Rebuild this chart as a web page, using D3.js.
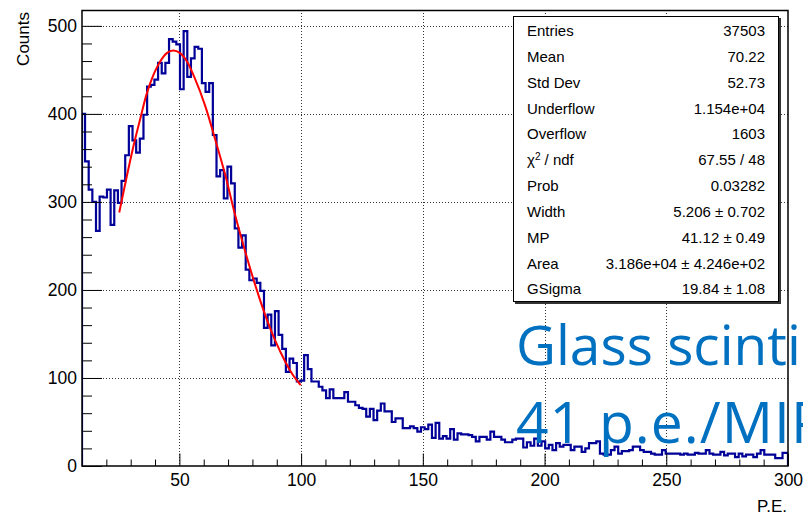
<!DOCTYPE html>
<html>
<head>
<meta charset="utf-8">
<script src="https://cdn.jsdelivr.net/npm/d3@7"></script>
<style>
  body { margin: 0; background: #fff; }
  svg { display: block; font-family: 'Liberation Sans', Arial, sans-serif; }
</style>
</head>
<body>
<div id="chart"></div>
<script>
// histogram: bins of 1.5 P.E. starting at 9.75
const binStart = 9.75
const binWidth = 1.5
const counts = [
  400, 346, 314, 300, 267, 306, 305, 314, 274, 313,
  299, 324, 353, 386, 370, 356, 372, 399, 431, 433,
  439, 458, 446, 458, 485, 482, 479, 428, 494, 442,
  463, 476, 474, 435, 425, 435, 376, 329, 336, 304,
  340, 321, 270, 248, 262, 223, 211, 213, 208, 199,
  157, 172, 137, 176, 149, 133, 107, 122, 117, 96,
  97, 126, 110, 96, 96, 90, 86, 77, 87, 77,
  77, 77, 84, 73, 73, 69, 66, 65, 56, 65,
  52, 63, 71, 62, 62, 50, 54, 54, 43, 43,
  45, 43, 39, 44, 42, 47, 32, 49, 31, 34,
  31, 42, 30, 37, 36, 36, 35, 33, 28, 33,
  33, 30, 39, 33, 33, 30, 27, 27, 30, 31,
  31, 21, 27, 23, 31, 23, 28, 20, 24, 18,
  26, 22, 24, 24, 18, 22, 22, 16, 20, 26,
  26, 28, 14, 13, 13, 18, 22, 14, 17, 17,
  18, 22, 22, 18, 16, 16, 14, 13, 13, 18,
  14, 14, 14, 14, 13, 14, 13, 13, 15, 14,
  14, 18, 14, 13, 13, 16, 12, 14, 14, 10,
  14, 11, 13, 13, 10, 14, 18, 13, 13, 13,
  9, 9, 15, 15
]

// fit curve
const fitX = [25.3, 28.4, 31.1, 33.8, 36.6, 39.3, 42, 44.8, 47.5, 50.3, 53, 56.4, 60.5, 64.6, 68.8, 72.9, 77, 81.1, 85.2, 89.3, 93.4, 96.5, 99.8]
const fitY = [288, 329, 363, 393, 423, 444, 459, 469, 472, 469, 460, 440, 410, 372, 331, 285, 244, 206, 172, 143, 119, 104, 92]

const xTicks = [50, 100, 150, 200, 250, 300]
const yTicks = [0, 100, 200, 300, 400, 500]

const statLabels = ['Entries', 'Mean', 'Std Dev', 'Underflow', 'Overflow', 'chi', 'Prob', 'Width', 'MP', 'Area', 'GSigma']
const statValues = ['37503', '70.22', '52.73', '1.154e+04', '1603', '67.55 / 48', '0.03282', '5.206 ± 0.702', '41.12 ± 0.49', '3.186e+04 ± 4.246e+02', '19.84 ± 1.08']

// slide text, runs off the right edge of the slide as in the original
const noteLines = ['Glass scintillator', '41 p.e./MIP']

const width = 803
const height = 515
const frameL = 82, frameR = 788, frameT = 10, frameB = 466

const svg = d3.select('#chart').append('svg')
  .attr('width', width)
  .attr('height', height)

const xScale = d3.scaleLinear().domain([10, 300]).range([frameL, frameR])
const yScale = d3.scaleLinear().domain([0, 518]).range([frameB, frameT])

svg.append('defs').append('clipPath')
  .attr('id', 'frame')
  .append('rect')
  .attr('x', frameL).attr('y', frameT)
  .attr('width', frameR - frameL).attr('height', frameB - frameT)

// grid
const grid = svg.append('g')
  .attr('stroke', '#333')
  .attr('stroke-width', 1)
  .attr('stroke-dasharray', '1,2')
grid.selectAll('.gx').data(xTicks.filter(d => d < 300)).join('line')
  .attr('x1', d => Math.round(xScale(d)) + 0.5).attr('x2', d => Math.round(xScale(d)) + 0.5)
  .attr('y1', frameT).attr('y2', frameB)
grid.selectAll('.gy').data(yTicks.filter(d => d > 0)).join('line')
  .attr('y1', d => Math.round(yScale(d)) + 0.5).attr('y2', d => Math.round(yScale(d)) + 0.5)
  .attr('x1', frameL).attr('x2', frameR)

// histogram outline
const pts = [[10, 0]]
counts.forEach(function(c, i) {
  const lo = Math.max(10, binStart + i * binWidth)
  const hi = Math.min(300, binStart + (i + 1) * binWidth)
  pts.push([lo, c])
  pts.push([hi, c])
})
pts.push([300, 0])

const line = d3.line().x(d => xScale(d[0])).y(d => yScale(d[1]))

svg.append('path')
  .attr('d', line(pts))
  .attr('fill', 'none')
  .attr('stroke', '#000099')
  .attr('stroke-width', 2.2)
  .attr('clip-path', 'url(#frame)')

// fit
svg.append('path')
  .attr('d', d3.line().curve(d3.curveCatmullRom)
    .x(d => xScale(d[0])).y(d => yScale(d[1]))(fitX.map((v, i) => [v, fitY[i]])))
  .attr('fill', 'none')
  .attr('stroke', '#ff0000')
  .attr('stroke-width', 2)

// axes
const xMajor = svg.append('g')
  .attr('transform', 'translate(0,' + frameB + ')')
  .call(d3.axisBottom(xScale).tickValues(xTicks).tickSize(-12.5).tickPadding(7.5).tickSizeOuter(0))
const xMinor = svg.append('g')
  .attr('transform', 'translate(0,' + frameB + ')')
  .call(d3.axisBottom(xScale).tickValues(d3.range(20, 300, 10).filter(d => d % 50 !== 0)).tickSize(-6.5).tickFormat('').tickSizeOuter(0))
const yMajor = svg.append('g')
  .attr('transform', 'translate(' + frameL + ',0)')
  .call(d3.axisLeft(yScale).tickValues(yTicks).tickSize(-20).tickPadding(5).tickSizeOuter(0))
const yMinor = svg.append('g')
  .attr('transform', 'translate(' + frameL + ',0)')
  .call(d3.axisLeft(yScale).tickValues(d3.range(20, 518, 20).filter(d => d % 100 !== 0)).tickSize(-10).tickFormat('').tickSizeOuter(0))

;[xMajor, xMinor, yMajor, yMinor].forEach(function(g) {
  g.select('.domain').remove()
  g.selectAll('line').attr('stroke', '#000').attr('stroke-width', 1)
  g.selectAll('text')
    .attr('font-family', "'Liberation Sans', Arial, sans-serif")
    .attr('font-size', 17.5)
    .attr('fill', '#000')
})

// frame
svg.append('rect')
  .attr('x', frameL).attr('y', frameT + 0.5)
  .attr('width', frameR - frameL).attr('height', frameB - frameT - 0.5)
  .attr('fill', 'none')
  .attr('stroke', '#000')
  .attr('stroke-width', 1.5)

// axis titles
svg.append('text')
  .attr('transform', 'translate(29,12) rotate(-90)')
  .attr('text-anchor', 'end')
  .attr('font-size', 17)
  .text('Counts')
svg.append('text')
  .attr('x', 787).attr('y', 512)
  .attr('text-anchor', 'end')
  .attr('font-size', 17)
  .text('P.E.')

// stats box
const box = svg.append('g')
box.append('rect')
  .attr('x', 515).attr('y', 18).attr('width', 266).attr('height', 286)
  .attr('fill', '#333')
box.append('rect')
  .attr('x', 513.5).attr('y', 16.5).attr('width', 265).attr('height', 285)
  .attr('fill', '#fff')
  .attr('stroke', '#000')
  .attr('stroke-width', 1)

const rowScale = d3.scalePoint().domain(d3.range(statLabels.length)).range([30.7, 289])

statLabels.forEach(function(lab, i) {
  const t = box.append('text')
    .attr('x', 527).attr('y', rowScale(i))
    .attr('dy', '0.36em')
    .attr('font-size', 15)
  if (lab === 'chi') {
    t.append('tspan').text('χ')
    t.append('tspan').attr('font-size', 10).attr('dy', '-0.55em').text('2')
    t.append('tspan').attr('dy', '0.35em').text(' / ndf')
  } else {
    t.text(lab)
  }
  box.append('text')
    .attr('x', 765).attr('y', rowScale(i))
    .attr('dy', '0.36em')
    .attr('text-anchor', 'end')
    .attr('font-size', 15)
    .text(statValues[i])
})

// slide annotation on top
svg.selectAll('.note').data(noteLines).join('text')
  .attr('class', 'note')
  .attr('x', 516)
  .attr('y', (d, i) => 365 + i * 78)
  .attr('font-family', "'Open Sans', sans-serif")
  .attr('font-size', (d, i) => i === 0 ? 55 : 57)
  .attr('letter-spacing', (d, i) => i === 0 ? 0 : 1)
  .attr('fill', '#0070C0')
  .text(d => d)
</script>
</body>
</html>
